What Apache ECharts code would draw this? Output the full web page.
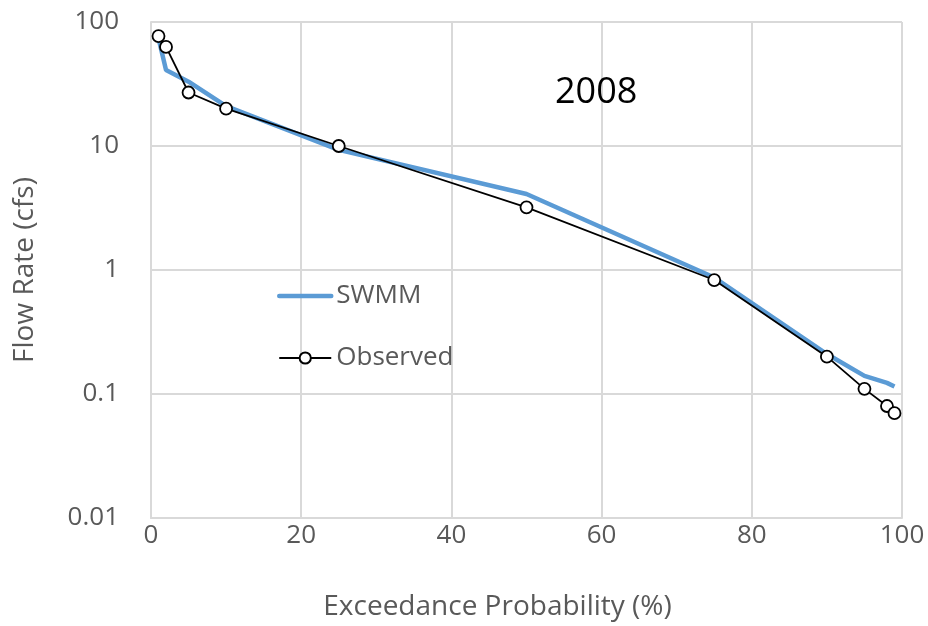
<!DOCTYPE html>
<html>
<head>
<meta charset="utf-8">
<script src="https://cdn.jsdelivr.net/npm/echarts@6/dist/echarts.min.js"></script>
<style>
  html, body { margin: 0; padding: 0; background: #fff; }
  #chart { width: 928px; height: 626px; }
</style>
</head>
<body>
<div id="chart"></div>
<script>
// exceedance probabilities (%)
let probSwmm = [1, 2, 5, 10, 25, 50, 75, 90, 95, 98, 99];
let flowSwmm = [74, 41, 33, 21, 9.3, 4.1, 0.87, 0.21, 0.14, 0.123, 0.115];

let probObs = [1, 2, 5, 10, 25, 50, 75, 90, 95, 98, 99];
let flowObs = [77, 63, 27, 20, 10, 3.2, 0.83, 0.2, 0.11, 0.08, 0.07];

let xTicks = [0, 20, 40, 60, 80, 100];
let yTicks = [0.01, 0.1, 1, 10, 100];

let font = 'Open Sans';
let grey = '#595959';
let gridGrey = '#d9d9d9';

let option = {
    animation: false,
    backgroundColor: '#fff',
    textStyle: { fontFamily: font },
    title: {
        text: '2008',
        left: 550,
        top: 70,
        textStyle: { fontSize: 36, fontWeight: 'normal', color: '#000', fontFamily: font }
    },
    legend: {
        orient: 'vertical',
        left: 277,
        top: 283,
        padding: 0,
        itemGap: 36,
        itemWidth: 52,
        itemHeight: 14,
        textStyle: { fontSize: 26, color: grey, fontFamily: font },
        data: [{
            name: 'SWMM',
            itemStyle: { opacity: 0 },
            lineStyle: { width: 4.5, color: '#5b9bd5', cap: 'round' }
        }, {
            name: 'Observed',
            lineStyle: { width: 2, color: '#000' }
        }]
    },
    grid: {
        left: 151,
        right: 26,
        top: 22,
        bottom: 108
    },
    xAxis: {
        type: 'value',
        min: xTicks[0],
        max: xTicks[xTicks.length - 1],
        interval: 20,
        name: 'Exceedance Probability (%)',
        nameLocation: 'middle',
        nameGap: 75,
        nameTextStyle: { fontSize: 28, color: grey, padding: [0, 58, 0, 0] },
        axisLine: { show: true, lineStyle: { color: gridGrey, width: 2 } },
        axisTick: { show: false },
        axisLabel: { fontSize: 26, color: grey, margin: 5 },
        splitLine: { show: true, lineStyle: { color: gridGrey, width: 2 } }
    },
    yAxis: {
        type: 'log',
        logBase: 10,
        min: yTicks[0],
        max: yTicks[yTicks.length - 1],
        name: 'Flow Rate (cfs)',
        nameLocation: 'middle',
        nameGap: 112,
        nameTextStyle: { fontSize: 28, color: grey },
        axisLine: { show: true, lineStyle: { color: gridGrey, width: 2 } },
        axisTick: { show: false },
        axisLabel: {
            fontSize: 26,
            color: grey,
            margin: 32,
            formatter: v => {
                let r = yTicks.find(t => Math.abs(t - v) / t < 1e-6);
                return r === undefined ? '' : String(r);
            }
        },
        splitLine: { show: true, lineStyle: { color: gridGrey, width: 2 } }
    },
    series: [{
        name: 'SWMM',
        type: 'line',
        data: probSwmm.map((p, i) => [p, flowSwmm[i]]),
        symbol: 'none',
        lineStyle: { color: '#5b9bd5', width: 4.5 },
        itemStyle: { color: '#5b9bd5' },
        z: 2
    }, {
        name: 'Observed',
        type: 'line',
        data: probObs.map((p, i) => [p, flowObs[i]]),
        symbol: 'circle',
        symbolSize: 12,
        showAllSymbol: true,
        lineStyle: { color: '#000', width: 1.8 },
        itemStyle: { color: '#fff', borderColor: '#000', borderWidth: 1.8 },
        z: 3
    }]
};

echarts.init(document.getElementById('chart')).setOption(option);
</script>
</body>
</html>
